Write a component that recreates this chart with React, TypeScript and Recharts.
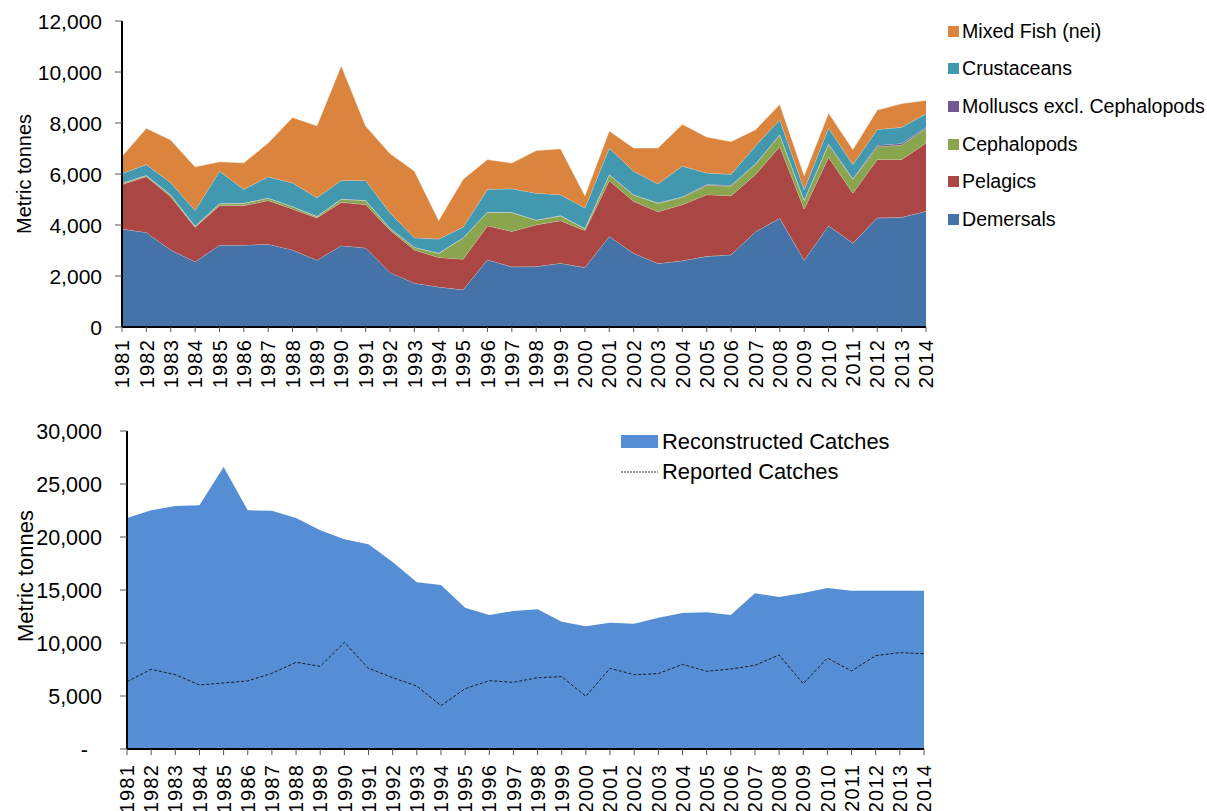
import { Area, AreaChart, ComposedChart, Legend, Line, XAxis, YAxis } from "recharts";

const years = [
  1981, 1982, 1983, 1984, 1985, 1986, 1987, 1988, 1989, 1990, 1991, 1992, 1993, 1994, 1995, 1996, 1997,
  1998, 1999, 2000, 2001, 2002, 2003, 2004, 2005, 2006, 2007, 2008, 2009, 2010, 2011, 2012, 2013, 2014,
];

const demersals = [
  3840, 3710, 3020, 2560, 3210, 3210, 3250, 3020, 2620, 3190, 3100, 2140, 1720, 1570, 1460, 2640, 2360,
  2370, 2500, 2330, 3550, 2890, 2490, 2600, 2770, 2830, 3740, 4260, 2620, 3970, 3290, 4280, 4300, 4540,
];
const pelagics = [
  1750, 2190, 2090, 1350, 1550, 1550, 1710, 1610, 1660, 1700, 1700, 1660, 1300, 1160, 1200, 1330, 1390,
  1640, 1670, 1450, 2190, 2040, 2030, 2200, 2420, 2320, 2240, 2820, 2010, 2690, 1960, 2290, 2270, 2670,
];
const cephalopods = [
  50, 40, 70, 40, 70, 90, 90, 90, 50, 120, 160, 70, 100, 160, 830, 530, 740,
  180, 190, 80, 230, 250, 330, 290, 370, 380, 400, 450, 330, 510, 540, 500, 570, 570,
];
const molluscs = [
  10, 10, 10, 10, 10, 10, 10, 10, 10, 10, 10, 10, 10, 10, 10, 10, 10,
  10, 10, 10, 10, 10, 20, 20, 30, 30, 20, 20, 20, 20, 20, 60, 60, 50,
];
const crustaceans = [
  370, 420, 470, 610, 1270, 540, 830, 920, 730, 730, 780, 600, 370, 550, 420, 890, 920,
  1050, 820, 800, 1040, 920, 740, 1200, 450, 430, 700, 580, 410, 610, 560, 620, 630, 530,
];
const mixedFish = [
  680, 1420, 1670, 1710, 370, 1040, 1330, 2570, 2820, 4500, 2130, 2320, 2620, 730, 1870, 1170, 1010,
  1670, 1800, 480, 670, 910, 1410, 1640, 1410, 1280, 640, 600, 550, 590, 590, 760, 930, 530,
];

const reconstructed = [
  21790, 22520, 22920, 22990, 26600, 22520, 22480, 21790, 20630, 19780, 19310, 17640, 15720, 15470, 13330, 12640, 13020,
  13180, 12010, 11570, 11920, 11820, 12390, 12830, 12890, 12640, 14690, 14340, 14720, 15190, 14940, 14940, 14940, 14940,
];
const reported = [
  6350, 7520, 7010, 6040, 6230, 6420, 7140, 8180, 7800, 10060, 7610, 6730, 5940, 4090, 5690, 6450, 6290,
  6730, 6820, 4970, 7610, 7010, 7110, 7990, 7330, 7550, 7890, 8870, 6160, 8580, 7360, 8810, 9090, 8990,
];

const topTicks = [0, 2000, 4000, 6000, 8000, 10000, 12000];
const bottomTicks = [0, 5000, 10000, 15000, 20000, 25000, 30000];

const FONT = '"Liberation Sans", Arial, sans-serif';

const SERIES = [
  { key: "demersals", name: "Demersals", color: "#4572A7" },
  { key: "pelagics", name: "Pelagics", color: "#AA4643" },
  { key: "cephalopods", name: "Cephalopods", color: "#89A54E" },
  { key: "molluscs", name: "Molluscs excl. Cephalopods", color: "#71588F" },
  { key: "crustaceans", name: "Crustaceans", color: "#4198AF" },
  { key: "mixed", name: "Mixed Fish (nei)", color: "#DB843D" },
];

const topData = years.map((year, i) => ({
  year,
  demersals: demersals[i],
  pelagics: pelagics[i],
  cephalopods: cephalopods[i],
  molluscs: molluscs[i],
  crustaceans: crustaceans[i],
  mixed: mixedFish[i],
}));

const bottomData = years.map((year, i) => ({
  year,
  reconstructed: reconstructed[i],
  reported: reported[i],
}));

const fmt = (v: number) => v.toLocaleString("en-US");

function YearTick(props: any) {
  const { x, y, payload } = props;
  return (
    <text
      x={x}
      y={y}
      transform={`rotate(-90, ${x}, ${y})`}
      textAnchor="end"
      dy="0.36em"
      fontSize={20}
      letterSpacing={1.2}
      fontFamily={FONT}
      fill="#000"
    >
      {payload.value}
    </text>
  );
}

function ValueTick(props: any) {
  const { x, y, payload, size, dash } = props;
  const zero = dash && payload.value === 0;
  return (
    <text
      x={zero ? x - 14 : x}
      y={y}
      textAnchor="end"
      dy="0.36em"
      fontSize={size}
      fontFamily={FONT}
      fill="#000"
    >
      {zero ? "-" : fmt(payload.value)}
    </text>
  );
}

function axisTitle(x: number, y: number, size: number) {
  return () => (
    <text
      x={x}
      y={y}
      transform={`rotate(-90, ${x}, ${y})`}
      textAnchor="middle"
      fontSize={size}
      fontFamily={FONT}
      fill="#000"
    >
      Metric tonnes
    </text>
  );
}

function TopLegend() {
  const rows = [...SERIES].reverse();
  return (
    <div style={{ fontFamily: FONT, fontSize: 19.6, color: "#000" }}>
      {rows.map((s, i) => (
        <div key={s.key} style={{ position: "absolute", left: 0, top: i * 37.7 - 11, height: 22, display: "flex", alignItems: "center", whiteSpace: "nowrap" }}>
          <span style={{ width: 11, height: 11, background: s.color, display: "inline-block", marginRight: 3 }} />
          {s.name}
        </div>
      ))}
    </div>
  );
}

function BottomLegend() {
  return (
    <div style={{ fontFamily: FONT, fontSize: 21.9, color: "#000" }}>
      <div style={{ position: "absolute", left: 0, top: -12, height: 24, display: "flex", alignItems: "center", whiteSpace: "nowrap" }}>
        <span style={{ width: 37, height: 13, background: "#558ED5", display: "inline-block", marginRight: 4 }} />
        Reconstructed Catches
      </div>
      <div style={{ position: "absolute", left: 0, top: 18, height: 24, display: "flex", alignItems: "center", whiteSpace: "nowrap" }}>
        <svg width={37} height={4} style={{ marginRight: 4 }}>
          <line x1={0} y1={2} x2={37} y2={2} stroke="#333" strokeWidth={1} strokeDasharray="2 1" />
        </svg>
        Reported Catches
      </div>
    </div>
  );
}

export default function App() {
  return (
    <div style={{ position: "absolute", left: 0, top: 0, width: 1207, height: 811, background: "#fff", overflow: "hidden" }}>
      <div style={{ position: "absolute", left: 0, top: 0 }}>
        <AreaChart width={1207} height={400} data={topData} margin={{ top: 21, right: 281, left: 0, bottom: 0 }}>
          <XAxis
            dataKey="year"
            interval={0}
            height={73}
            tickSize={5}
            tickMargin={7}
            tick={<YearTick />}
            axisLine={{ stroke: "#000", strokeWidth: 2 }}
            tickLine={{ stroke: "#555" }}
          />
          <YAxis
            width={122}
            domain={[0, 12000]}
            ticks={topTicks}
            interval={0}
            tickSize={7}
            tickMargin={13}
            tick={<ValueTick size={21} />}
            axisLine={{ stroke: "#000", strokeWidth: 2 }}
            tickLine={{ stroke: "#555" }}
            label={axisTitle(31, 174, 20)}
          />
          {SERIES.map((s) => (
            <Area
              key={s.key}
              type="linear"
              dataKey={s.key}
              name={s.name}
              stackId="catch"
              fill={s.color}
              fillOpacity={1}
              stroke="#ffffff"
              strokeOpacity={0.6}
              strokeWidth={0.8}
              isAnimationActive={false}
            />
          ))}
          <Legend
            layout="vertical"
            align="center"
            verticalAlign="middle"
            wrapperStyle={{ position: "absolute", left: 948, top: 31, width: 260, height: 200 }}
            content={() => <TopLegend />}
          />
        </AreaChart>
      </div>
      <div style={{ position: "absolute", left: 0, top: 400 }}>
        <ComposedChart width={1207} height={411} data={bottomData} margin={{ top: 31, right: 283, left: 0, bottom: 0 }}>
          <XAxis
            dataKey="year"
            interval={0}
            height={62}
            tickSize={6}
            tickMargin={9}
            tick={<YearTick />}
            axisLine={{ stroke: "#000", strokeWidth: 2 }}
            tickLine={{ stroke: "#555" }}
          />
          <YAxis
            width={127}
            domain={[0, 30000]}
            ticks={bottomTicks}
            interval={0}
            tickSize={7}
            tickMargin={18}
            tick={<ValueTick size={21.5} dash />}
            axisLine={{ stroke: "#000", strokeWidth: 2 }}
            tickLine={{ stroke: "#555" }}
            label={axisTitle(33, 176, 22)}
          />
          <Area
            type="linear"
            dataKey="reconstructed"
            name="Reconstructed Catches"
            fill="#558ED5"
            fillOpacity={1}
            stroke="none"
            isAnimationActive={false}
          />
          <Line
            type="linear"
            dataKey="reported"
            name="Reported Catches"
            stroke="#1a1a1a"
            strokeWidth={1}
            strokeDasharray="3 2"
            dot={false}
            activeDot={false}
            isAnimationActive={false}
          />
          <Legend
            layout="vertical"
            align="center"
            verticalAlign="middle"
            wrapperStyle={{ position: "absolute", left: 621, top: 41.5, width: 300, height: 60 }}
            content={() => <BottomLegend />}
          />
        </ComposedChart>
      </div>
    </div>
  );
}
